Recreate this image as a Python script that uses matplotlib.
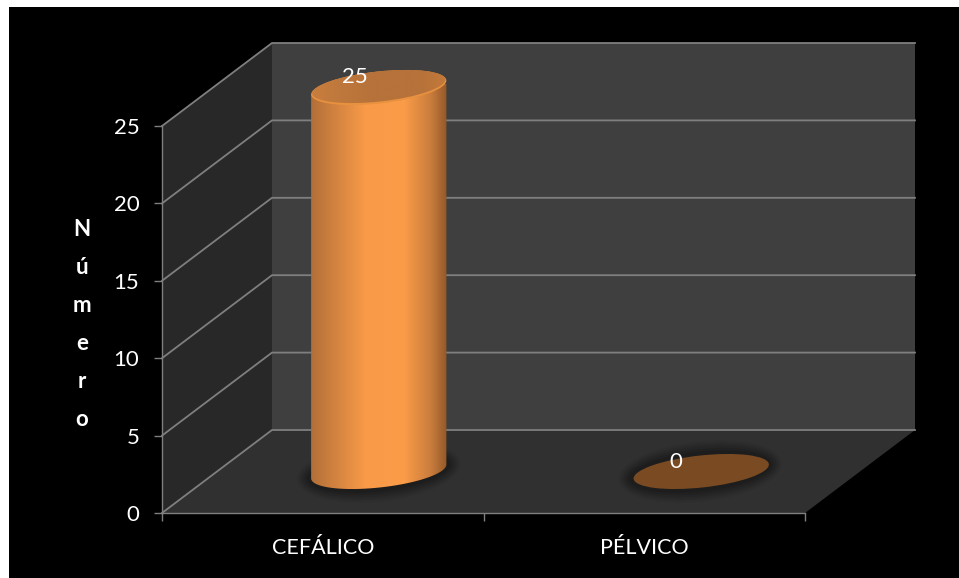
import numpy as np
import matplotlib
matplotlib.use("Agg")
import matplotlib.pyplot as plt
from matplotlib.patches import Ellipse, Polygon, Rectangle
from matplotlib.colors import LinearSegmentedColormap
from matplotlib.transforms import IdentityTransform

categories = ["CEFÁLICO", "PÉLVICO"]
values = [25, 0]
y_ticks = [0, 5, 10, 15, 20, 25]
y_title = "Número"

W, H = 959, 578
# front plane of the 3D box, in pixels
LEFT, RIGHT, BOTTOM, TOP = 162, 805, 513, 126
PX_X = (RIGHT - LEFT) / len(categories)
PX_Y = (BOTTOM - TOP) / y_ticks[-1]
# depth of the box in data units
DX = 110 / PX_X
DY = 83 / PX_Y
# tilted ellipse used for the cylinder ends, in pixels and degrees
RX, RY, TILT = 68, 16, 6.2

plt.rcParams["font.family"] = ["Lato", "DejaVu Sans"]

fig = plt.figure(figsize=(W / 100, H / 100), dpi=100, facecolor="white")
fig.patches.append(Rectangle((9 / W, 0), 950 / W, 571 / H, transform=fig.transFigure,
                             facecolor="black", edgecolor="none", zorder=-1))
ax = fig.add_axes([LEFT / W, 1 - BOTTOM / H, (RIGHT - LEFT) / W, (BOTTOM - TOP) / H])
ax.set_facecolor("none")
xmax, ymax = len(categories), y_ticks[-1]
ax.set_xlim(0, xmax)
ax.set_ylim(0, ymax)

# walls and floor
ax.add_patch(Polygon([(DX, DY), (xmax + DX, DY), (xmax + DX, ymax + DY), (DX, ymax + DY)],
                     facecolor="#3f3f3f", edgecolor="none", clip_on=False, zorder=1))
ax.add_patch(Polygon([(0, 0), (DX, DY), (DX, ymax + DY), (0, ymax)],
                     facecolor="#282828", edgecolor="none", clip_on=False, zorder=1))
ax.add_patch(Polygon([(0, 0), (xmax, 0), (xmax + DX, DY), (DX, DY)],
                     facecolor="#303030", edgecolor="none", clip_on=False, zorder=1))

grid = "#7f7f7f"
for v in y_ticks:
    ax.plot([0, DX, xmax + DX], [v, v + DY, v + DY], color=grid, lw=1.3,
            clip_on=False, zorder=2, solid_joinstyle="miter")


def disc(x, y, grow=0.0, **kw):
    # tilted ellipse of fixed pixel size, placed from data coordinates
    px, py = ax.transData.transform((x, y))
    return Ellipse((px, py), 2 * RX + grow, 2 * RY + grow, angle=TILT,
                   transform=IdentityTransform(), clip_on=False, **kw)


def silhouette(x, y_low, y_high):
    # side view of the cylinder: lower half of the base ellipse plus the lid ends
    px, py_low = ax.transData.transform((x, y_low))
    _, py_high = ax.transData.transform((x, y_high))
    th = np.radians(TILT)
    t0 = np.arctan(-RY / RX * np.tan(th))
    t = np.linspace(t0 + np.pi, t0 + 2 * np.pi, 80)
    ex = RX * np.cos(t) * np.cos(th) - RY * np.sin(t) * np.sin(th)
    ey = RX * np.cos(t) * np.sin(th) + RY * np.sin(t) * np.cos(th)
    pts = np.column_stack([px + ex, py_low + ey])
    tops = [(px + ex[-1], py_high + ey[-1]), (px + ex[0], py_high + ey[0])]
    return Polygon(np.vstack([pts, tops]), transform=IdentityTransform())


body_cmap = LinearSegmentedColormap.from_list(
    "body", [(0, "#b06e38"), (0.14, "#cb7e3e"), (0.40, "#f89a48"), (0.68, "#fb9c49"),
             (0.88, "#c97c3c"), (1, "#8f5628")])
lid_cmap = LinearSegmentedColormap.from_list(
    "lid", [(0, "#c87e3e"), (0.45, "#b6723a"), (0.8, "#b6723a"), (1, "#c47a3a")])
half = (RX + 1) / PX_X
ramp = np.linspace(0, 1, 256)[None, :]

for i, (cat, val) in enumerate(zip(categories, values)):
    cx = i + 0.5 + DX / 2 + 1 / PX_X
    base_y = DY / 2
    top_y = val + DY / 2

    # soft contact shadow on the floor
    for grow, alpha in zip([28, 23, 18, 13, 8], [0.08, 0.12, 0.16, 0.22, 0.30]):
        ax.add_artist(disc(cx, base_y, grow=grow, facecolor="#141414", alpha=alpha,
                           edgecolor="none", zorder=3))

    if val > 0:
        # shaded body clipped to the cylinder outline
        img = ax.imshow(ramp, cmap=body_cmap, aspect="auto", zorder=4,
                        extent=(cx - half, cx + half, base_y - 3, top_y))
        img.set_clip_path(silhouette(cx, base_y, top_y - 3 / PX_Y))
        img.set_clip_box(fig.bbox)
        # rim and lid, lowered a little from the gridline height
        ax.add_artist(disc(cx, top_y - 3 / PX_Y, facecolor="#e8913f", edgecolor="none", zorder=5))
        lid = disc(cx, top_y - 2 / PX_Y, grow=-2, facecolor="none", edgecolor="none", zorder=5.1)
        ax.add_artist(lid)
        lid_img = ax.imshow(ramp, cmap=lid_cmap, aspect="auto", zorder=5.1,
                            extent=(cx - half, cx + half, top_y - 3, top_y + 3))
        lid_img.set_clip_path(lid)
        lid_img.set_clip_box(fig.bbox)
        label_xy = (cx - 24 / PX_X, top_y + 7.5 / PX_Y)
    else:
        ax.add_artist(disc(cx + 1 / PX_X, base_y, facecolor="#7a4b22", edgecolor="none", zorder=5))
        label_xy = (cx - 24 / PX_X, top_y + 10 / PX_Y)
    ax.text(*label_xy, str(val), color="white", fontsize=16, ha="center", va="center",
            zorder=6, clip_on=False)

ax.set_xlim(0, xmax)
ax.set_ylim(0, ymax)

for side in ["top", "right"]:
    ax.spines[side].set_visible(False)
for side in ["left", "bottom"]:
    ax.spines[side].set_color(grid)
    ax.spines[side].set_linewidth(1.0)
    ax.spines[side].set_zorder(2.5)

ax.set_yticks(y_ticks)
ax.set_xticks(range(xmax + 1))
ax.set_xticklabels([])
ax.set_xticks([i + 0.5 for i in range(xmax)], minor=True)
ax.set_xticklabels(categories, minor=True, color="white", fontsize=15.5)
ax.tick_params(axis="x", which="major", length=5.8, width=1, color=grid)
ax.tick_params(axis="x", which="minor", length=0, pad=18)
ax.tick_params(axis="y", length=5.8, width=1, color=grid, labelcolor="white", labelsize=16, pad=10.5)

fig.text(82 / W, 1 - 324 / H, "\n".join(y_title), color="white", fontsize=16, fontweight="bold",
         ha="center", va="center", linespacing=2.0, multialignment="center")

fig.savefig("out.png", dpi=100, facecolor=fig.get_facecolor())
